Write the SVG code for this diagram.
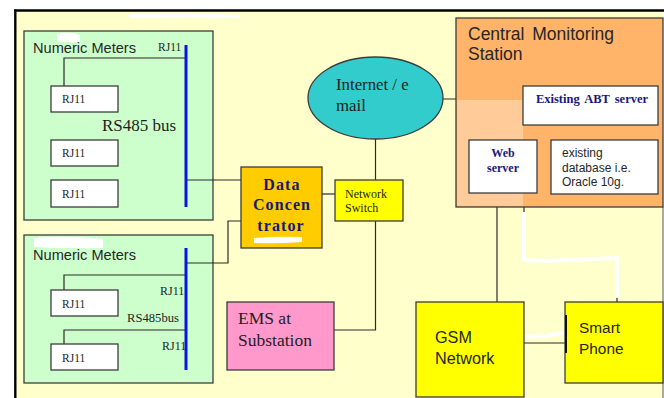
<svg xmlns="http://www.w3.org/2000/svg" width="664" height="398" viewBox="0 0 664 398">
  <style>
    .box { stroke: #3c3c3c; stroke-width: 1.3; }
    .wire { fill: none; stroke: #2b2b2b; stroke-width: 1.2; }
    .bus { stroke: #0a14e6; stroke-width: 3; }
    .erase { fill: none; stroke: #ffffff; stroke-width: 4; stroke-linecap: round; stroke-linejoin: round; }
    .sans { font-family: "Liberation Sans", Arial, sans-serif; fill: #262626; }
    .serif { font-family: "Liberation Serif", "Times New Roman", serif; fill: #1e1e1e; }
    .navy { font-family: "Liberation Serif", "Times New Roman", serif; font-weight: bold; fill: #18187a; }
    .port { fill: #ffffff; }
  </style>

  <!-- page frame -->
  <rect x="0" y="0" width="664" height="398" fill="#ffffff"/>
  <rect x="16" y="11" width="647" height="387" fill="#ffffcc"/>
  <line x1="14" y1="10.5" x2="664" y2="10.5" stroke="#000" stroke-width="2.4"/>
  <line x1="15.3" y1="9.5" x2="15.3" y2="398" stroke="#000" stroke-width="2.4"/>
  <line x1="663" y1="207" x2="663" y2="398" stroke="#555" stroke-width="1"/>
  <path d="M130 14 Q180 12 240 15 L240 18 Q190 17 130 18 Z" fill="#ffffff"/>

  <!-- meter group 1 -->
  <g id="meters-1">
    <rect class="box" x="24" y="31" width="189" height="189" fill="#ccffcc"/>
    <path d="M57 34 Q68 31 80 35 L80 42 Q68 43 57 41 Z" fill="#ffffff"/>
    <text class="sans" x="33" y="53" font-size="14.6" fill="#1f2440">Numeric Meters</text>
    <text class="serif" x="158" y="51" font-size="11.5">RJ11</text>
    <path class="wire" d="M185 58 H64 V86"/>
    <rect class="box port" x="51" y="86" width="67" height="26"/>
    <text class="serif" x="62" y="103" font-size="11.5">RJ11</text>
    <text class="serif" x="102" y="131" font-size="17">RS485 bus</text>
    <rect class="box port" x="51" y="140" width="67" height="26"/>
    <text class="serif" x="62" y="157" font-size="11.5">RJ11</text>
    <rect class="box port" x="51" y="180" width="67" height="27"/>
    <text class="serif" x="62" y="198" font-size="11.5">RJ11</text>
    <line class="bus" x1="186" y1="45" x2="186" y2="207"/>
  </g>

  <!-- meter group 2 -->
  <g id="meters-2">
    <rect class="box" x="24" y="235" width="189" height="148" fill="#ccffcc"/>
    <path d="M34 238 Q70 235 103 239 L103 248 Q70 249 34 247 Z" fill="#ffffff"/>
    <text class="sans" x="33" y="260" font-size="14.6" fill="#1f2440">Numeric Meters</text>
    <path class="wire" d="M185 275 H64 V290"/>
    <rect class="box port" x="51" y="290" width="67" height="26"/>
    <text class="serif" x="62" y="308" font-size="11.5">RJ11</text>
    <text class="serif" x="160" y="295" font-size="12">RJ11</text>
    <text class="serif" x="127" y="322" font-size="12" textLength="52" lengthAdjust="spacingAndGlyphs">RS485bus</text>
    <path class="wire" d="M185 330 H64 V344"/>
    <rect class="box port" x="51" y="344" width="67" height="26"/>
    <text class="serif" x="62" y="362" font-size="11.5">RJ11</text>
    <text class="serif" x="162" y="350" font-size="12">RJ11</text>
    <line class="bus" x1="186" y1="248" x2="186" y2="370"/>
  </g>

  <!-- connectors -->
  <g id="connectors">
    <path class="wire" d="M186 180 H241"/>
    <path class="wire" d="M186 263 H228 V221 H241"/>
    <path class="wire" d="M322 194 H335"/>
    <path class="wire" d="M375.5 139 V180"/>
    <path class="wire" d="M375.5 221 V330 H334"/>
    <path class="wire" d="M443 99 H523"/>
    <path class="wire" d="M537 125 V140"/>
    <path class="wire" d="M606 125 V140"/>
    <path class="wire" d="M497 193 V302"/>
    <path class="wire" d="M524 193 V212"/>
    <path class="wire" d="M524 343 H565"/>
    <path class="wire" d="M617 297 V302"/>
    <path class="erase" d="M524 214 V260 L545 261 L617 258 V296"/>
    <path class="erase" d="M525 337 L546 336 L562 333" stroke-width="5"/>
  </g>

  <!-- data concentrator -->
  <g id="data-concentrator">
    <rect class="box" x="241" y="167" width="81" height="81" fill="#ffcc00"/>
    <g class="navy" font-size="16" letter-spacing="1.1" text-anchor="middle">
      <text x="282" y="190">Data</text>
      <text x="282" y="210">Concen</text>
      <text x="281" y="231">trator</text>
    </g>
    <path d="M254 238 Q278 236 302 237 L302 242 Q278 244 254 243 Z" fill="#ffffff"/>
  </g>

  <!-- internet -->
  <g id="internet">
    <ellipse class="box" cx="375.5" cy="98" rx="67.5" ry="41" fill="#33cccc"/>
    <text class="serif" x="336" y="90" font-size="16.8">Internet / e</text>
    <text class="serif" x="336" y="111" font-size="16.8">mail</text>
  </g>

  <!-- network switch -->
  <g id="network-switch">
    <rect class="box" x="335" y="180" width="68" height="41" fill="#ffff00"/>
    <text class="serif" x="345" y="198" font-size="12">Network</text>
    <text class="serif" x="345" y="212" font-size="12">Switch</text>
  </g>

  <!-- EMS -->
  <g id="ems">
    <rect class="box" x="227" y="302" width="107" height="68" fill="#ff99cc"/>
    <text class="serif" x="238" y="324" font-size="17.5">EMS at</text>
    <text class="serif" x="238" y="346" font-size="17.5">Substation</text>
  </g>

  <!-- central monitoring station -->
  <g id="central-monitoring">
    <rect class="box" x="456" y="18" width="207" height="189" fill="#ffb469"/>
    <rect x="457" y="100" width="66" height="106" fill="#ffcc99"/>
    <text class="sans" x="468" y="40" font-size="17.5" word-spacing="3">Central Monitoring</text>
    <text class="sans" x="468" y="60" font-size="17.5">Station</text>
  </g>

  <g id="abt-server">
    <rect class="box" x="523" y="86" width="135" height="39" fill="#ffffff"/>
    <text class="navy" x="592" y="103" font-size="12.5" text-anchor="middle" word-spacing="2">Existing ABT server</text>
  </g>

  <g id="web-server">
    <rect class="box" x="469" y="140" width="68" height="53" fill="#ffffff"/>
    <text class="navy" x="503" y="157" font-size="12" text-anchor="middle">Web</text>
    <text class="navy" x="503" y="172" font-size="12" text-anchor="middle">server</text>
  </g>

  <g id="database">
    <rect class="box" x="551" y="140" width="107" height="54" fill="#ffffff"/>
    <text class="sans" x="562" y="157" font-size="12">existing</text>
    <text class="sans" x="562" y="172" font-size="12">database i.e.</text>
    <text class="sans" x="562" y="186" font-size="12">Oracle 10g.</text>
  </g>

  <!-- GSM network -->
  <g id="gsm-network">
    <rect class="box" x="416" y="302" width="108" height="95" fill="#ffff00"/>
    <text class="sans" x="435" y="343" font-size="16.2">GSM</text>
    <text class="sans" x="435" y="364" font-size="16.2">Network</text>
  </g>

  <!-- smart phone -->
  <g id="smart-phone">
    <rect class="box" x="565" y="302" width="98" height="81" fill="#ffff00"/>
    <line x1="566" y1="315" x2="566" y2="353" stroke="#111" stroke-width="2"/>
    <text class="sans" x="579" y="333" font-size="15.4">Smart</text>
    <text class="sans" x="579" y="354" font-size="15.4">Phone</text>
  </g>
</svg>
